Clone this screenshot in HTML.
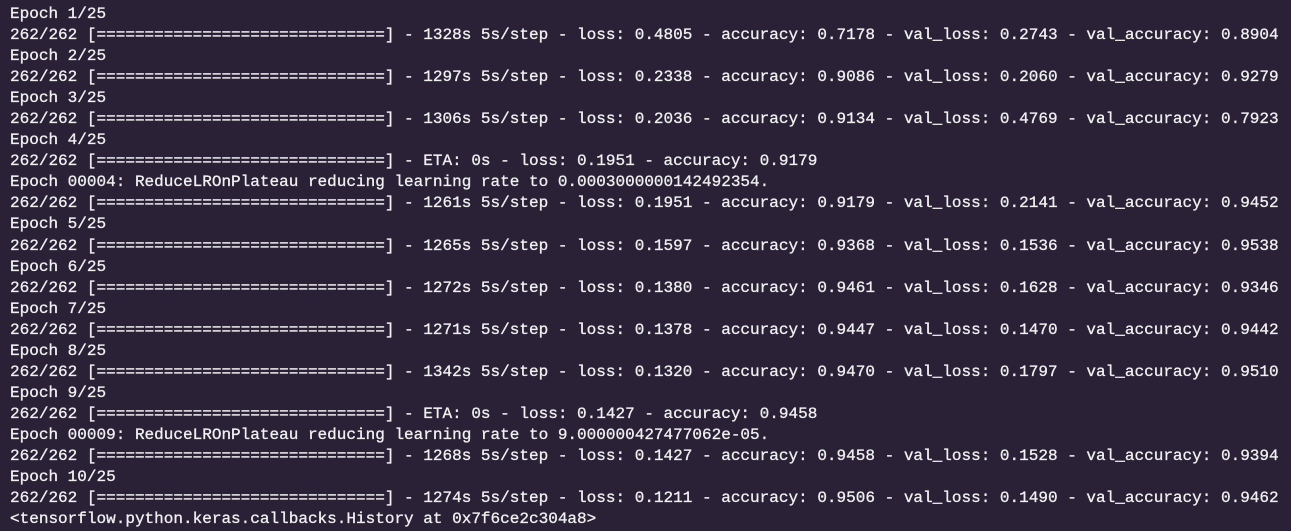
<!DOCTYPE html>
<html><head><meta charset="utf-8"><style>
html,body{margin:0;padding:0;width:1291px;height:531px;overflow:hidden;background:#2a2137;}
pre{margin:0;padding:4px 0 0 10px;font-family:"Liberation Mono","DejaVu Sans Mono",monospace;font-size:16.03px;line-height:21.04px;color:#f0f0f0;white-space:pre;-webkit-text-stroke:0.3px #f0f0f0;}
</style></head><body>
<pre>Epoch 1/25
262/262 [==============================] - 1328s 5s/step - loss: 0.4805 - accuracy: 0.7178 - val_loss: 0.2743 - val_accuracy: 0.8904
Epoch 2/25
262/262 [==============================] - 1297s 5s/step - loss: 0.2338 - accuracy: 0.9086 - val_loss: 0.2060 - val_accuracy: 0.9279
Epoch 3/25
262/262 [==============================] - 1306s 5s/step - loss: 0.2036 - accuracy: 0.9134 - val_loss: 0.4769 - val_accuracy: 0.7923
Epoch 4/25
262/262 [==============================] - ETA: 0s - loss: 0.1951 - accuracy: 0.9179
Epoch 00004: ReduceLROnPlateau reducing learning rate to 0.0003000000142492354.
262/262 [==============================] - 1261s 5s/step - loss: 0.1951 - accuracy: 0.9179 - val_loss: 0.2141 - val_accuracy: 0.9452
Epoch 5/25
262/262 [==============================] - 1265s 5s/step - loss: 0.1597 - accuracy: 0.9368 - val_loss: 0.1536 - val_accuracy: 0.9538
Epoch 6/25
262/262 [==============================] - 1272s 5s/step - loss: 0.1380 - accuracy: 0.9461 - val_loss: 0.1628 - val_accuracy: 0.9346
Epoch 7/25
262/262 [==============================] - 1271s 5s/step - loss: 0.1378 - accuracy: 0.9447 - val_loss: 0.1470 - val_accuracy: 0.9442
Epoch 8/25
262/262 [==============================] - 1342s 5s/step - loss: 0.1320 - accuracy: 0.9470 - val_loss: 0.1797 - val_accuracy: 0.9510
Epoch 9/25
262/262 [==============================] - ETA: 0s - loss: 0.1427 - accuracy: 0.9458
Epoch 00009: ReduceLROnPlateau reducing learning rate to 9.000000427477062e-05.
262/262 [==============================] - 1268s 5s/step - loss: 0.1427 - accuracy: 0.9458 - val_loss: 0.1528 - val_accuracy: 0.9394
Epoch 10/25
262/262 [==============================] - 1274s 5s/step - loss: 0.1211 - accuracy: 0.9506 - val_loss: 0.1490 - val_accuracy: 0.9462
&lt;tensorflow.python.keras.callbacks.History at 0x7f6ce2c304a8&gt;</pre>
</body></html>
